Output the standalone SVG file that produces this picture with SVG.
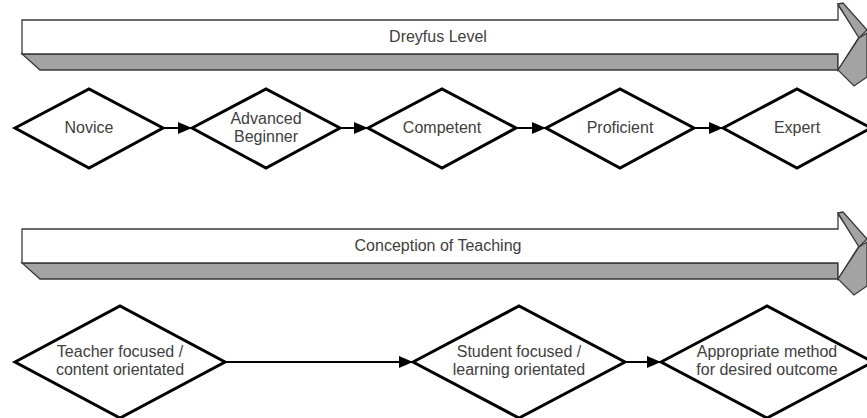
<svg xmlns="http://www.w3.org/2000/svg" width="867" height="418" viewBox="0 0 867 418">
<style>
.face{fill:#ffffff;stroke:#3a3a3a;stroke-width:1.3;stroke-linejoin:miter}
.side{fill:#a3a3a3;stroke:#3a3a3a;stroke-width:1.3;stroke-linejoin:miter}
.dia{fill:#ffffff;stroke:#000000;stroke-width:3;stroke-linejoin:miter}
.lbl{font-family:"Liberation Sans",Arial,sans-serif;font-size:16px;fill:#404040;text-anchor:middle}
.con{stroke:#000000;stroke-width:2;fill:none}
</style>
<defs>
<marker id="ah" viewBox="0 0 14 12" refX="14" refY="6" markerWidth="14" markerHeight="12" markerUnits="userSpaceOnUse" orient="auto">
<path d="M0,0 L14,6 L0,12 Z" fill="#000000"/>
</marker>
<g id="band">
<polygon class="side" points="22,54 838,54 838,70 40,70"/>
<path class="face" d="M22,20 H838 V5 L859,37 L838,70 V54 H22 Z"/>
<polygon class="side" points="838,4 843,3 867,30 859,38"/>
<polygon class="side" points="838,70 859,38 867,33 867,77 854,86"/>
</g>
</defs>

<g id="dreyfus-level">
<use href="#band"/>
<text class="lbl" x="438" y="42">Dreyfus Level</text>
</g>

<g id="conception-of-teaching">
<use href="#band" transform="translate(0,209)"/>
<text class="lbl" x="438" y="251">Conception of Teaching</text>
</g>

<g id="connectors">
<line class="con" x1="163" y1="128" x2="192" y2="128" marker-end="url(#ah)"/>
<line class="con" x1="340" y1="128" x2="368" y2="128" marker-end="url(#ah)"/>
<line class="con" x1="516" y1="128" x2="546" y2="128" marker-end="url(#ah)"/>
<line class="con" x1="694" y1="128" x2="723" y2="128" marker-end="url(#ah)"/>
<line class="con" x1="225" y1="362" x2="413" y2="362" marker-end="url(#ah)"/>
<line class="con" x1="625" y1="362" x2="661" y2="362" marker-end="url(#ah)"/>
</g>

<g id="novice">
<polygon class="dia" points="15,128 89,89 163,128 89,168"/>
<text class="lbl" x="89" y="133">Novice</text>
</g>
<g id="advanced-beginner">
<polygon class="dia" points="192,128 266,89 340,128 266,168"/>
<text class="lbl" x="266" y="124">Advanced</text>
<text class="lbl" x="266" y="142">Beginner</text>
</g>
<g id="competent">
<polygon class="dia" points="368,128 442,89 516,128 442,168"/>
<text class="lbl" x="442" y="133">Competent</text>
</g>
<g id="proficient">
<polygon class="dia" points="546,128 620,89 694,128 620,168"/>
<text class="lbl" x="620" y="133">Proficient</text>
</g>
<g id="expert">
<polygon class="dia" points="723,128 797,89 871,128 797,168"/>
<text class="lbl" x="797" y="133">Expert</text>
</g>

<g id="teacher-focused">
<polygon class="dia" points="15,362 120,306 225,362 120,418"/>
<text class="lbl" x="120" y="357">Teacher focused /</text>
<text class="lbl" x="120" y="375">content orientated</text>
</g>
<g id="student-focused">
<polygon class="dia" points="413,362 519,306 625,362 519,418"/>
<text class="lbl" x="519" y="357">Student focused /</text>
<text class="lbl" x="519" y="375">learning orientated</text>
</g>
<g id="appropriate-method">
<polygon class="dia" points="661,362 767,306 873,362 767,418"/>
<text class="lbl" x="767" y="357">Appropriate method</text>
<text class="lbl" x="767" y="375">for desired outcome</text>
</g>
</svg>
